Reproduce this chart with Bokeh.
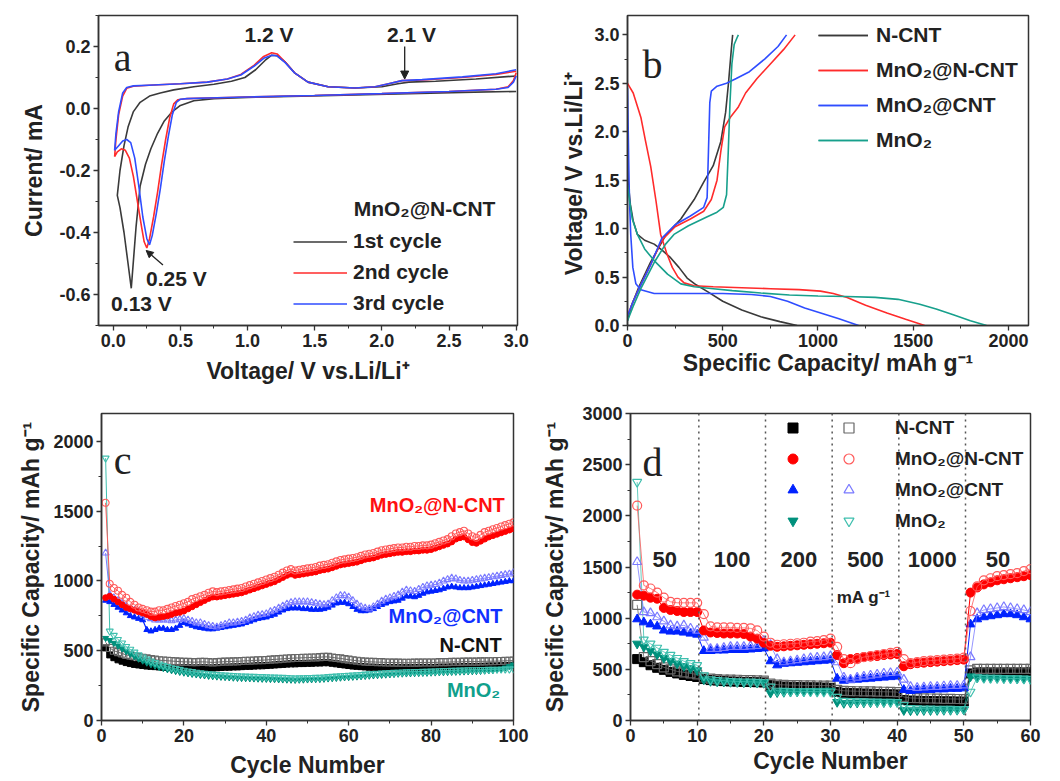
from bokeh.plotting import figure
from bokeh.layouts import column, row
from bokeh.models import (FixedTicker, NumeralTickFormatter, Legend, LegendItem,
                          Label, Arrow, NormalHead, Span, Range1d)
from bokeh.embed import file_html
from bokeh.resources import INLINE

# ======================= DATA =======================
# (a) cyclic voltammetry of MnO2@N-CNT
cv1_v = [3.0, 2.6, 2.2, 1.8, 1.4, 1.0, 0.75, 0.6, 0.5, 0.44, 0.38, 0.33, 0.28, 0.24, 0.2, 0.17, 0.134, 0.11, 0.08, 0.05, 0.03,
         0.03, 0.05, 0.08, 0.11, 0.15, 0.2, 0.27, 0.35, 0.45, 0.6, 0.75, 0.88, 0.98, 1.06, 1.13, 1.18, 1.22, 1.28, 1.35, 1.45,
         1.6, 1.8, 2.0, 2.12, 2.2, 2.4, 2.7, 3.0]
cv1_i = [0.055, 0.052, 0.048, 0.044, 0.04, 0.036, 0.032, 0.025, 0.01, -0.01, -0.04, -0.08, -0.13, -0.18, -0.25, -0.38, -0.58, -0.5, -0.4, -0.32, -0.28,
         -0.28, -0.2, -0.12, -0.06, -0.01, 0.02, 0.04, 0.05, 0.06, 0.07, 0.078, 0.088, 0.1, 0.125, 0.155, 0.172, 0.17, 0.15, 0.115, 0.085,
         0.07, 0.066, 0.07, 0.08, 0.085, 0.088, 0.095, 0.105]
cv2_v = [3.0, 2.98, 2.94, 2.85, 2.5, 2.0, 1.5, 1.0, 0.7, 0.55, 0.48, 0.45, 0.42, 0.39, 0.36, 0.33, 0.3, 0.27, 0.25, 0.23, 0.21, 0.18, 0.15, 0.12, 0.09, 0.06, 0.03, 0.01,
         0.01, 0.02, 0.04, 0.07, 0.1, 0.15, 0.3, 0.5, 0.7, 0.85, 0.95, 1.05, 1.12, 1.18, 1.22, 1.28, 1.35, 1.45, 1.6, 1.8, 1.95, 2.05, 2.15, 2.3, 2.6, 2.85, 3.0]
cv2_i = [0.115, 0.09, 0.07, 0.062, 0.055, 0.048, 0.042, 0.037, 0.034, 0.032, 0.028, 0.015, -0.03, -0.1, -0.18, -0.27, -0.35, -0.42, -0.45, -0.43, -0.38, -0.3, -0.22, -0.16, -0.135, -0.13, -0.14, -0.155,
         -0.155, -0.1, -0.02, 0.04, 0.065, 0.072, 0.076, 0.08, 0.085, 0.095, 0.11, 0.14, 0.168, 0.18, 0.176, 0.15, 0.115, 0.085, 0.07, 0.066, 0.07, 0.08, 0.09, 0.092, 0.1, 0.11, 0.12]
cv3_v = [3.0, 2.98, 2.94, 2.85, 2.5, 2.0, 1.5, 1.0, 0.7, 0.55, 0.5, 0.47, 0.44, 0.41, 0.38, 0.35, 0.32, 0.29, 0.27, 0.25, 0.22, 0.19, 0.16, 0.13, 0.1, 0.07, 0.04, 0.01,
         0.01, 0.02, 0.04, 0.07, 0.1, 0.15, 0.3, 0.5, 0.7, 0.85, 0.95, 1.05, 1.12, 1.18, 1.22, 1.28, 1.35, 1.45, 1.6, 1.8, 1.95, 2.05, 2.15, 2.3, 2.6, 2.85, 3.0]
cv3_i = [0.105, 0.085, 0.068, 0.062, 0.055, 0.048, 0.042, 0.037, 0.034, 0.032, 0.03, 0.02, -0.02, -0.09, -0.17, -0.26, -0.34, -0.41, -0.44, -0.42, -0.35, -0.25, -0.16, -0.11, -0.1, -0.105, -0.12, -0.135,
         -0.135, -0.08, -0.01, 0.05, 0.068, 0.073, 0.076, 0.08, 0.085, 0.095, 0.108, 0.137, 0.162, 0.172, 0.17, 0.148, 0.115, 0.085, 0.07, 0.066, 0.07, 0.08, 0.09, 0.093, 0.102, 0.112, 0.125]
cv_labels = ["1st cycle", "2nd cycle", "3rd cycle"]

# (b) discharge / charge profiles
ncnt_dis_c = [0, 5, 15, 30, 52, 90, 140, 180, 226, 270, 313, 360, 420, 500, 600, 700, 800, 890]
ncnt_dis_v = [1.65, 1.45, 1.25, 1.08, 0.94, 0.88, 0.84, 0.78, 0.70, 0.6, 0.49, 0.42, 0.35, 0.25, 0.16, 0.09, 0.04, 0.0]
ncnt_chg_c = [0, 20, 60, 120, 200, 280, 350, 400, 450, 490, 515, 530, 545, 552]
ncnt_chg_v = [0.05, 0.2, 0.4, 0.65, 0.93, 1.1, 1.3, 1.48, 1.65, 1.9, 2.2, 2.5, 2.85, 3.0]
mnn_dis_c = [0, 30, 70, 95, 122, 150, 174, 205, 235, 265, 297, 350, 450, 600, 750, 900, 1013, 1080, 1153, 1250, 1362, 1460, 1560]
mnn_dis_v = [2.5, 2.4, 2.15, 1.9, 1.64, 1.28, 0.94, 0.75, 0.6, 0.5, 0.44, 0.41, 0.4, 0.39, 0.38, 0.37, 0.355, 0.33, 0.29, 0.21, 0.13, 0.065, 0.0]
mnn_chg_c = [0, 30, 70, 120, 180, 250, 330, 400, 440, 470, 490, 510, 540, 580, 620, 680, 750, 820, 880]
mnn_chg_v = [0.1, 0.25, 0.42, 0.62, 0.88, 1.02, 1.1, 1.18, 1.3, 1.5, 1.8, 2.05, 2.15, 2.25, 2.4, 2.55, 2.7, 2.85, 3.0]
mnc_dis_c = [0, 4, 8, 12, 17, 28, 44, 70, 140, 300, 500, 650, 750, 840, 930, 1014, 1110, 1213]
mnc_dis_v = [2.45, 2.0, 1.5, 1.2, 0.94, 0.6, 0.43, 0.37, 0.33, 0.33, 0.33, 0.32, 0.3, 0.25, 0.18, 0.13, 0.07, 0.0]
mnc_chg_c = [0, 30, 70, 120, 180, 250, 330, 400, 418, 425, 432, 440, 470, 520, 571, 640, 720, 790, 835]
mnc_chg_v = [0.1, 0.25, 0.42, 0.62, 0.9, 1.04, 1.13, 1.22, 1.32, 1.8, 2.3, 2.42, 2.47, 2.5, 2.55, 2.62, 2.75, 2.88, 3.0]
mno_dis_c = [0, 10, 25, 52, 90, 140, 210, 280, 350, 450, 550, 700, 850, 1000, 1150, 1300, 1420, 1534, 1620, 1710, 1800, 1885]
mno_dis_v = [1.45, 1.3, 1.1, 0.94, 0.79, 0.67, 0.53, 0.43, 0.4, 0.38, 0.36, 0.335, 0.315, 0.305, 0.3, 0.29, 0.27, 0.22, 0.17, 0.11, 0.05, 0.0]
mno_chg_c = [0, 30, 70, 140, 200, 244, 320, 416, 470, 503, 520, 529, 538, 548, 560, 575, 582]
mno_chg_v = [0.05, 0.2, 0.38, 0.65, 0.84, 0.94, 1.03, 1.12, 1.17, 1.22, 1.35, 1.8, 2.3, 2.7, 2.9, 2.97, 3.0]
materials = ["N-CNT", "MnO₂@N-CNT", "MnO₂@CNT", "MnO₂"]

# (c) cycling, 100 cycles
cycles_c = list(range(1, 101))
c_ncnt_open = [560, 520, 500, 490, 480, 470, 465, 460, 455, 450,
               445, 440, 436, 432, 430, 428, 426, 424, 422, 420,
               420, 418, 418, 420, 420, 418, 416, 418, 420, 422,
               422, 424, 424, 426, 428, 428, 430, 432, 432, 434,
               436, 438, 440, 442, 444, 446, 448, 448, 450, 450,
               452, 452, 454, 456, 456, 452, 448, 445, 440, 436,
               432, 428, 425, 422, 420, 420, 418, 418, 416, 416,
               415, 415, 414, 414, 414, 415, 415, 416, 416, 416,
               416, 418, 418, 418, 420, 420, 420, 422, 422, 422,
               422, 424, 424, 425, 425, 426, 426, 428, 428, 430]
c_ncnt_fill = [520, 470, 450, 435, 425, 415, 408, 402, 398, 394,
               390, 388, 386, 384, 382, 380, 380, 378, 378, 378,
               378, 376, 376, 378, 378, 376, 376, 378, 380, 382,
               382, 384, 384, 386, 388, 388, 390, 392, 392, 394,
               396, 398, 400, 402, 404, 406, 406, 408, 408, 410,
               410, 412, 412, 414, 414, 410, 406, 402, 398, 394,
               390, 388, 386, 384, 382, 382, 380, 380, 378, 378,
               378, 378, 378, 378, 378, 378, 380, 380, 380, 380,
               380, 382, 382, 382, 384, 384, 384, 386, 386, 386,
               386, 388, 388, 390, 390, 390, 392, 392, 394, 396]
c_mnn_open = [1560, 980, 950, 930, 900, 880, 850, 830, 810, 800,
              790, 780, 780, 790, 790, 800, 810, 820, 830, 840,
              850, 870, 880, 890, 900, 915, 925, 920, 925, 930,
              935, 940, 945, 950, 960, 970, 980, 990, 1000, 1010,
              1020, 1030, 1045, 1060, 1075, 1085, 1075, 1080, 1085, 1090,
              1095, 1100, 1110, 1115, 1120, 1130, 1140, 1150, 1155, 1160,
              1165, 1170, 1180, 1190, 1195, 1200, 1210, 1220, 1225, 1230,
              1235, 1240, 1240, 1245, 1245, 1250, 1250, 1255, 1255, 1260,
              1270, 1280, 1290, 1300, 1320, 1340, 1350, 1360, 1340, 1320,
              1310, 1330, 1350, 1360, 1370, 1380, 1390, 1400, 1410, 1420]
c_mnn_fill = [880, 890, 870, 850, 830, 810, 800, 790, 780, 770,
              760, 745, 735, 740, 745, 750, 760, 770, 775, 785,
              800, 815, 830, 845, 860, 875, 885, 885, 890, 895,
              900, 905, 910, 915, 925, 935, 945, 955, 965, 975,
              985, 995, 1010, 1025, 1040, 1050, 1040, 1045, 1050, 1055,
              1060, 1065, 1075, 1080, 1085, 1095, 1105, 1115, 1120, 1125,
              1130, 1135, 1145, 1155, 1160, 1165, 1175, 1185, 1190, 1195,
              1200, 1205, 1205, 1210, 1210, 1215, 1215, 1220, 1220, 1225,
              1235, 1245, 1255, 1265, 1280, 1300, 1310, 1315, 1295, 1275,
              1270, 1285, 1300, 1315, 1325, 1335, 1345, 1355, 1365, 1375]
c_mnc_open = [1200, 900, 880, 860, 840, 820, 800, 790, 780, 760,
              740, 730, 720, 720, 720, 720, 715, 720, 725, 730,
              720, 710, 700, 700, 690, 680, 675, 670, 680, 690,
              700, 700, 705, 710, 720, 735, 745, 755, 760, 765,
              780, 790, 805, 820, 835, 845, 850, 850, 850, 850,
              845, 840, 835, 830, 835, 860, 880, 895, 895, 885,
              860, 835, 815, 805, 800, 815, 835, 855, 870, 880,
              890, 900, 920, 935, 930, 925, 940, 955, 965, 970,
              975, 985, 1000, 1010, 1020, 1015, 1005, 1000, 1000, 1005,
              1010, 1015, 1020, 1025, 1030, 1035, 1040, 1045, 1050, 1060]
c_mnc_fill = [860, 850, 830, 810, 790, 770, 750, 740, 730, 720,
              650, 640, 650, 660, 660, 650, 650, 660, 680, 700,
              690, 680, 670, 665, 660, 655, 655, 660, 665, 670,
              675, 680, 685, 690, 700, 710, 720, 730, 735, 740,
              750, 760, 775, 790, 800, 805, 805, 805, 800, 800,
              795, 795, 795, 800, 810, 825, 840, 845, 845, 835,
              815, 795, 785, 785, 790, 800, 815, 830, 840, 850,
              855, 860, 875, 890, 890, 885, 895, 910, 920, 925,
              930, 935, 945, 955, 960, 955, 950, 950, 950, 955,
              960, 965, 970, 975, 980, 985, 990, 995, 1000, 1000]
c_mno_open = [1880, 640, 610, 580, 555, 530, 510, 490, 470, 455,
              440, 425, 415, 405, 395, 386, 378, 372, 366, 360,
              355, 350, 346, 342, 338, 335, 332, 330, 328, 326,
              324, 322, 320, 319, 318, 317, 316, 315, 314, 313,
              312, 311, 310, 309, 308, 306, 304, 305, 306, 307,
              308, 309, 310, 312, 314, 316, 318, 320, 322, 324,
              326, 328, 330, 332, 334, 336, 338, 340, 342, 344,
              345, 346, 347, 348, 349, 350, 351, 352, 353, 354,
              355, 356, 357, 358, 359, 360, 361, 362, 363, 364,
              364, 365, 365, 366, 366, 367, 367, 368, 368, 370]
c_mno_fill = [590, 575, 555, 535, 515, 495, 476, 458, 442, 428,
              414, 402, 392, 382, 374, 366, 359, 353, 347, 342,
              337, 333, 329, 325, 322, 319, 316, 314, 312, 310,
              308, 306, 304, 303, 302, 301, 300, 299, 298, 297,
              296, 295, 294, 293, 292, 291, 290, 291, 292, 293,
              294, 295, 296, 298, 300, 302, 304, 306, 308, 310,
              312, 314, 316, 318, 320, 322, 324, 326, 328, 330,
              332, 334, 335, 336, 337, 338, 339, 340, 341, 342,
              343, 344, 345, 346, 347, 348, 349, 350, 351, 352,
              353, 354, 356, 358, 360, 364, 370, 378, 388, 400]

# (d) rate capability, 60 cycles
cycles_d = list(range(1, 61))
rate_values = ["50", "100", "200", "500", "1000", "50"]
rate_bounds = [10.25, 20.25, 30.25, 40.25, 50.25]
d_ncnt_fill = [600, 570, 540, 515, 495, 475, 460, 445, 435, 425,
               405, 395, 390, 385, 382, 380, 378, 376, 374, 372,
               345, 335, 332, 330, 328, 326, 325, 324, 322, 320,
               280, 270, 268, 266, 264, 262, 260, 258, 256, 255,
               200, 195, 193, 191, 190, 189, 188, 187, 186, 185,
               460, 470, 470, 470, 470, 470, 470, 470, 470, 470]
d_ncnt_open = [1130, 620, 580, 550, 520, 500, 480, 470, 460, 450,
               420, 410, 405, 400, 400, 398, 396, 394, 392, 390,
               360, 350, 348, 346, 345, 344, 343, 342, 341, 340,
               300, 290, 288, 286, 285, 284, 282, 281, 280, 278,
               230, 220, 218, 216, 215, 214, 212, 211, 210, 208,
               490, 505, 505, 505, 505, 505, 505, 505, 505, 505]
d_mnn_fill = [1230, 1220, 1200, 1190, 1100, 1080, 1070, 1060, 1060, 1060,
              880, 860, 855, 850, 850, 850, 845, 820, 800, 760,
              730, 720, 725, 730, 735, 740, 745, 750, 755, 760,
              640, 560, 600, 610, 620, 625, 630, 640, 645, 650,
              530, 550, 560, 565, 570, 575, 580, 585, 590, 595,
              1250, 1300, 1330, 1350, 1370, 1380, 1390, 1400, 1410, 1420]
d_mnn_open = [2100, 1320, 1290, 1250, 1200, 1160, 1150, 1150, 1150, 1150,
              1040, 920, 910, 910, 910, 905, 905, 900, 880, 820,
              760, 740, 745, 750, 755, 760, 770, 775, 785, 800,
              720, 600, 560, 600, 620, 630, 640, 650, 660, 670,
              600, 560, 570, 580, 585, 590, 595, 600, 605, 615,
              1070, 1310, 1370, 1390, 1410, 1420, 1430, 1440, 1460, 1480]
d_mnc_fill = [990, 960, 940, 920, 880, 870, 870, 860, 850, 840,
              680, 680, 685, 685, 690, 690, 690, 695, 700, 705,
              580, 540, 555, 560, 565, 570, 575, 580, 585, 590,
              410, 390, 395, 400, 405, 410, 415, 420, 425, 430,
              300, 290, 295, 300, 300, 305, 305, 310, 310, 315,
              940, 990, 1010, 1020, 1030, 1040, 1040, 1030, 1010, 990]
d_mnc_open = [1550, 1060, 1050, 1010, 970, 930, 920, 930, 900, 880,
              810, 700, 700, 710, 720, 720, 720, 725, 730, 780,
              740, 600, 570, 580, 590, 600, 610, 615, 620, 630,
              570, 420, 400, 420, 430, 440, 450, 460, 465, 470,
              400, 330, 320, 325, 330, 330, 335, 340, 340, 345,
              620, 1050, 1080, 1090, 1100, 1110, 1100, 1090, 1080, 1060]
d_mno_fill = [750, 720, 680, 645, 610, 580, 555, 530, 510, 490,
              400, 385, 380, 378, 376, 374, 372, 370, 368, 366,
              270, 275, 278, 280, 282, 284, 286, 288, 289, 290,
              180, 170, 172, 174, 175, 176, 177, 178, 179, 180,
              100, 98, 99, 100, 100, 101, 102, 102, 103, 104,
              430, 420, 418, 416, 415, 414, 412, 410, 408, 405]
d_mno_open = [2330, 790, 750, 710, 670, 640, 610, 580, 560, 540,
              440, 400, 395, 390, 385, 382, 380, 378, 376, 375,
              330, 290, 288, 286, 285, 284, 283, 282, 281, 280,
              230, 190, 188, 186, 185, 184, 183, 182, 181, 180,
              150, 120, 118, 116, 115, 114, 113, 112, 111, 110,
              280, 420, 415, 415, 415, 412, 410, 410, 408, 405]

# ======================= STYLE =======================
SANS = "Liberation Sans"
SERIF = "Liberation Serif"
C_BLACK, C_RED, C_BLUE, C_TEAL = "#3a3a3a", "#ff2b2b", "#2f4dff", "#17a08c"
F_BLACK, F_RED, F_BLUE, F_TEAL = "#000000", "#ff0000", "#0022ff", "#00907c"
O_BLACK, O_RED, O_BLUE, O_TEAL = "#666666", "#ff5a5a", "#7a7aff", "#3fbfae"


def make_fig(xr, yr, bl, br, bt, bb, xt, xm, yt, ym, xlab, ylab, xfmt=None, yfmt=None,
             xstd=1, ystd=8):
    p = figure(width=530, height=390, x_range=Range1d(*xr), y_range=Range1d(*yr),
               output_backend="svg", toolbar_location=None,
               min_border_left=bl, min_border_right=br, min_border_top=bt, min_border_bottom=bb)
    p.xgrid.visible = False
    p.ygrid.visible = False
    p.outline_line_color = "#333333"
    p.outline_line_width = 1.5
    p.outline_line_alpha = 1.0
    p.border_fill_color = "white"
    p.background_fill_color = "white"
    p.xaxis[0].ticker = FixedTicker(ticks=xt, minor_ticks=xm)
    p.yaxis[0].ticker = FixedTicker(ticks=yt, minor_ticks=ym)
    if xfmt:
        p.xaxis[0].formatter = NumeralTickFormatter(format=xfmt)
    if yfmt:
        p.yaxis[0].formatter = NumeralTickFormatter(format=yfmt)
    p.xaxis[0].axis_label = xlab
    p.yaxis[0].axis_label = ylab
    p.xaxis[0].axis_label_standoff = xstd
    p.yaxis[0].axis_label_standoff = ystd
    for ax in (p.xaxis[0], p.yaxis[0]):
        ax.axis_line_color = "#333333"
        ax.axis_line_width = 1.5
        ax.major_tick_out = 5
        ax.major_tick_in = 0
        ax.minor_tick_out = 3
        ax.minor_tick_in = 0
        ax.major_tick_line_width = 1.3
        ax.major_tick_line_color = "#333333"
        ax.minor_tick_line_color = "#333333"
        ax.major_label_standoff = 3
        ax.major_label_text_font = SANS
        ax.major_label_text_font_style = "bold"
        ax.major_label_text_font_size = "18px"
        ax.major_label_text_color = "#222222"
        ax.axis_label_text_font = SANS
        ax.axis_label_text_font_style = "bold"
        ax.axis_label_text_font_size = "23px"
        ax.axis_label_text_color = "#222222"
    return p


def add_label(p, x, y, text, size="21px", color="#222222", font=SANS, style="bold",
              align="center", baseline="middle"):
    p.add_layout(Label(x=x, y=y, text=text, text_font=font, text_font_size=size,
                       text_font_style=style, text_color=color, text_align=align,
                       text_baseline=baseline))


def legend(items, loc, gw, gh, lh, sp, std, size):
    return Legend(items=items, location=loc, padding=0, margin=0, spacing=sp,
                  glyph_width=gw, glyph_height=gh, label_height=lh, label_standoff=std,
                  label_text_font=SANS, label_text_font_style="bold",
                  label_text_font_size=size, label_text_color="#222222",
                  border_line_color=None, background_fill_alpha=0)

# ======================= (a) =======================
pa = make_fig((-0.11, 3.01), (-0.70, 0.30), 98, 13, 15, 59,
              [0, 0.5, 1.0, 1.5, 2.0, 2.5, 3.0], [0.25, 0.75, 1.25, 1.75, 2.25, 2.75],
              [-0.6, -0.4, -0.2, 0.0, 0.2], [-0.7, -0.5, -0.3, -0.1, 0.1, 0.3],
              "Voltage/ V vs.Li/Li⁺", "Current/ mA", xfmt="0.0", yfmt="0.0", xstd=8, ystd=9)
ra1 = pa.line(cv1_v, cv1_i, line_color=C_BLACK, line_width=1.6)
ra2 = pa.line(cv2_v, cv2_i, line_color=C_RED, line_width=1.6)
ra3 = pa.line(cv3_v, cv3_i, line_color=C_BLUE, line_width=1.6)
pa.add_layout(legend([LegendItem(label=cv_labels[0], renderers=[ra1]),
                      LegendItem(label=cv_labels[1], renderers=[ra2]),
                      LegendItem(label=cv_labels[2], renderers=[ra3])],
                     (195, 10), 54, 23, 23, 7, 6, "21px"))
add_label(pa, 1.79, -0.322, "MnO₂@N-CNT", size="21px", align="left")
add_label(pa, 1.16, 0.24, "1.2 V")
add_label(pa, 2.22, 0.24, "2.1 V")
add_label(pa, 0.47, -0.547, "0.25 V")
add_label(pa, 0.21, -0.63, "0.13 V")
add_label(pa, 0.07, 0.165, "a", size="40px", font=SERIF, style="normal")
pa.add_layout(Arrow(end=NormalHead(size=8, fill_color="#222222", line_color="#222222"),
                    x_start=2.17, y_start=0.2, x_end=2.17, y_end=0.095,
                    line_color="#222222", line_width=1.3))
pa.add_layout(Arrow(end=NormalHead(size=7, fill_color="#222222", line_color="#222222"),
                    x_start=0.37, y_start=-0.505, x_end=0.245, y_end=-0.458,
                    line_color="#222222", line_width=1.3))

# ======================= (b) =======================
pb = make_fig((0, 2105), (0, 3.2), 97, 32, 15, 65,
              [0, 500, 1000, 1500, 2000], [250, 750, 1250, 1750],
              [0, 0.5, 1.0, 1.5, 2.0, 2.5, 3.0], [0.25, 0.75, 1.25, 1.75, 2.25, 2.75],
              "Specific Capacity/ mAh g⁻¹", "Voltage/  V vs.Li/Li⁺", yfmt="0.0", xstd=0, ystd=4)
rb = []
for dc, dv, cc, cv, col in [(ncnt_dis_c, ncnt_dis_v, ncnt_chg_c, ncnt_chg_v, C_BLACK),
                            (mnn_dis_c, mnn_dis_v, mnn_chg_c, mnn_chg_v, C_RED),
                            (mnc_dis_c, mnc_dis_v, mnc_chg_c, mnc_chg_v, C_BLUE),
                            (mno_dis_c, mno_dis_v, mno_chg_c, mno_chg_v, C_TEAL)]:
    r1 = pb.line(dc, dv, line_color=col, line_width=1.6)
    r2 = pb.line(cc, cv, line_color=col, line_width=1.6)
    rb.append([r1, r2])
pb.add_layout(legend([LegendItem(label=m, renderers=r) for m, r in zip(materials, rb)],
                     (191, 173), 50, 24, 24, 11, 8, "21px"))
add_label(pb, 131, 2.69, "b", size="40px", font=SERIF, style="normal", baseline="alphabetic")

# ======================= (c) =======================
pc = make_fig((0, 100), (0, 2200), 101, 17, 23, 57,
              [0, 20, 40, 60, 80, 100], [10, 30, 50, 70, 90],
              [0, 500, 1000, 1500, 2000], [250, 750, 1250, 1750],
              "Cycle Number", "Specific Capacity/ mAh g⁻¹", xstd=7, ystd=6)
series_c = [(c_ncnt_fill, c_ncnt_open, "square", F_BLACK, O_BLACK),
            (c_mno_fill, c_mno_open, "inverted_triangle", F_TEAL, O_TEAL),
            (c_mnc_fill, c_mnc_open, "triangle", F_BLUE, O_BLUE),
            (c_mnn_fill, c_mnn_open, "circle", F_RED, O_RED)]
for fill, opn, mk, fc, oc in series_c:
    pc.line(cycles_c, fill, line_color=fc, line_width=1.2)
    pc.scatter(cycles_c, fill, marker=mk, size=6, fill_color=fc, line_color=fc)
    pc.line(cycles_c, opn, line_color=oc, line_width=1.0)
    pc.scatter(cycles_c, opn, marker=mk, size=7, fill_color=None, line_color=oc, line_width=1.1)
add_label(pc, 81.5, 1545, "MnO₂@N-CNT", size="20px", color="#ff1010")
add_label(pc, 83.5, 752, "MnO₂@CNT", size="20px", color="#1030ff")
add_label(pc, 89.6, 540, "N-CNT", size="20px", color="#111111")
add_label(pc, 90.3, 215, "MnO₂", size="20px", color="#10a08c")
add_label(pc, 5.1, 1863, "c", size="40px", font=SERIF, style="normal", baseline="alphabetic")

# ======================= (d) =======================
pd_ = make_fig((0, 60), (0, 3000), 100, 30, 23, 57,
               [0, 10, 20, 30, 40, 50, 60], [5, 15, 25, 35, 45, 55],
               [0, 500, 1000, 1500, 2000, 2500, 3000], [250, 750, 1250, 1750, 2250, 2750],
               "Cycle Number", "Specific Capacity/ mAh g⁻¹", xstd=3, ystd=11)
for b in rate_bounds:
    pd_.add_layout(Span(location=b, dimension="height", line_color="#555555",
                        line_dash="dotted", line_width=1.5))
series_d = [(d_ncnt_fill, d_ncnt_open, "square", F_BLACK, O_BLACK),
            (d_mno_fill, d_mno_open, "inverted_triangle", F_TEAL, O_TEAL),
            (d_mnc_fill, d_mnc_open, "triangle", F_BLUE, O_BLUE),
            (d_mnn_fill, d_mnn_open, "circle", F_RED, O_RED)]
fill_r, open_r = {}, {}
for (fill, opn, mk, fc, oc), name in zip(series_d, ["N-CNT", "MnO₂", "MnO₂@CNT", "MnO₂@N-CNT"]):
    pd_.line(cycles_d, fill, line_color=fc, line_width=1.0)
    fill_r[name] = pd_.scatter(cycles_d, fill, marker=mk, size=9, fill_color=fc, line_color=fc)
    pd_.line(cycles_d, opn, line_color=oc, line_width=0.8)
    open_r[name] = pd_.scatter(cycles_d, opn, marker=mk, size=9, fill_color=None,
                               line_color=oc, line_width=1.2)
pd_.add_layout(legend([LegendItem(label="", renderers=[fill_r[m]]) for m in materials],
                      (150, 187), 25, 25, 25, 6, 0, "19px"))
pd_.add_layout(legend([LegendItem(label=m, renderers=[open_r[m]]) for m in materials],
                      (206, 187), 25, 25, 25, 6, 34, "19px"))
edges = [0] + rate_bounds + [60]
for k, txt in enumerate(rate_values):
    add_label(pd_, (edges[k] + edges[k + 1]) / 2, 1570, txt, size="22px")
add_label(pd_, 35.0, 1200, "mA g⁻¹", size="17px")
add_label(pd_, 3.3, 2520, "d", size="40px", font=SERIF, style="normal", baseline="alphabetic")

layout = column(row(pa, pb), row(pc, pd_))
open("out.html", "w").write(file_html(layout, INLINE))
